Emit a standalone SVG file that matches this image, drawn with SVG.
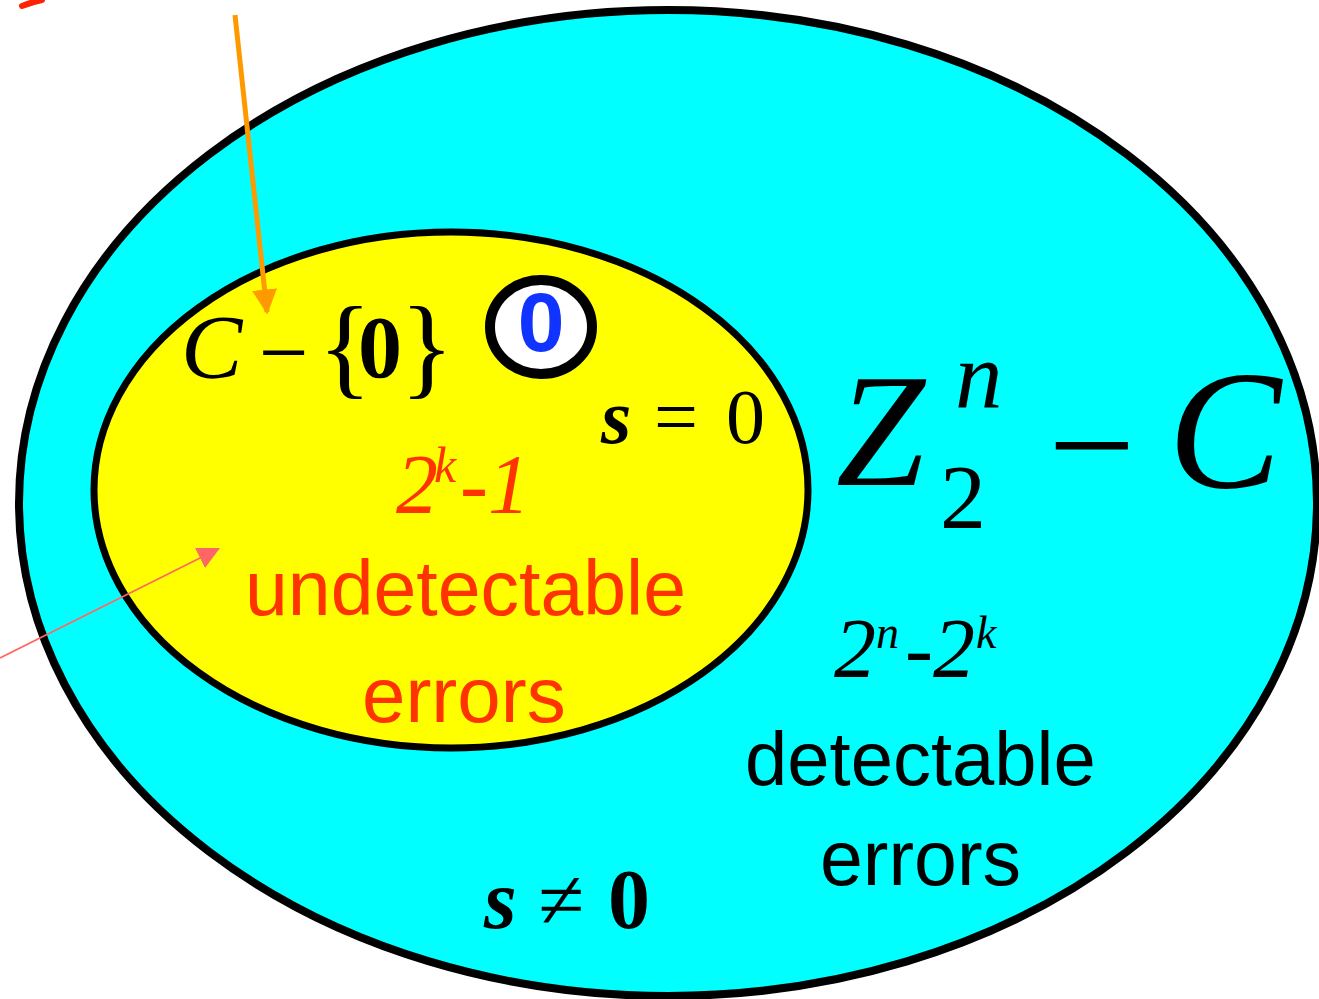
<svg xmlns="http://www.w3.org/2000/svg" width="1319" height="999" viewBox="0 0 1319 999">
<defs>
<style>
.serif{font-family:"Liberation Serif","Times New Roman",serif;}
.sans{font-family:"Liberation Sans",Arial,sans-serif;}
.it{font-style:italic;}
.bd{font-weight:bold;}
.up{font-style:normal;}
.nb{font-weight:normal;}
.red{fill:#FF3300;}
.blk{fill:#000;}
</style>
<marker id="arrOrange" viewBox="0 0 10 10" refX="9" refY="5" markerWidth="5" markerHeight="5" orient="auto" markerUnits="strokeWidth">
<path d="M0,0 L10,5 L0,10 Z" fill="#FF9900"/>
</marker>
<marker id="arrPink" viewBox="0 0 10 10" refX="9" refY="5" markerWidth="14" markerHeight="14" orient="auto" markerUnits="strokeWidth">
<path d="M0,0 L10,5 L0,10 Z" fill="#FF6666"/>
</marker>
</defs>
<rect width="1319" height="999" fill="#FFFFFF"/>
<path d="M22,6 Q32,2 42,0" stroke="#FF2200" stroke-width="6" fill="none" stroke-linecap="round"/>
<g id="outer">
<ellipse cx="668" cy="503" rx="649" ry="493" fill="#00FFFF" stroke="#000" stroke-width="8"/>
</g>
<g id="inner">
<ellipse cx="451" cy="490" rx="357" ry="258" fill="#FFFF00" stroke="#000" stroke-width="7"/>
</g>
<g id="zero">
<ellipse cx="541" cy="327" rx="51" ry="47" fill="#FFFFFF" stroke="#000" stroke-width="10"/>
<text x="541" y="351" text-anchor="middle" class="sans bd" font-size="84" fill="#1133FF">0</text>
</g>
<g id="labels">
<text x="181" y="378" class="serif it blk" font-size="92">C</text>
<text x="259" y="382" class="serif blk" font-size="88">−</text>
<text class="serif blk" y="384" font-size="112"><tspan x="318">{</tspan><tspan x="358" y="377" class="bd" font-size="88">0</tspan><tspan x="400" y="384">}</tspan></text>

<text x="601" y="443" class="serif it bd blk" font-size="78">s</text>
<text x="654" y="443" class="serif blk" font-size="78">=</text>
<text x="726" y="443" class="serif blk" font-size="78">0</text>

<text class="serif it red" y="513" font-size="84"><tspan x="396">2</tspan><tspan x="434" y="482" font-size="50">k</tspan><tspan x="460" y="513">-1</tspan></text>
<text x="245" y="615" class="sans red" font-size="77">undetectable</text>
<text x="362" y="722" class="sans red" font-size="78">errors</text>

<text class="serif it blk" y="485" font-size="160"><tspan x="836">Z</tspan><tspan x="955" y="408" font-size="95">n</tspan><tspan x="940" y="528" class="up" font-size="92">2</tspan></text>
<text x="1048" y="497" class="serif blk" font-size="155">−</text>
<text x="1168" y="487" class="serif it blk" font-size="170">C</text>

<text class="serif it blk" y="677" font-size="84"><tspan x="834">2</tspan><tspan x="876" y="648" font-size="46">n</tspan><tspan x="905" y="677">-2</tspan><tspan x="976" y="648" font-size="46">k</tspan></text>
<text x="745" y="785" class="sans blk" font-size="76">detectable</text>
<text x="820" y="885" class="sans blk" font-size="77">errors</text>

<text class="serif blk" y="928" font-size="84"><tspan x="484" class="it bd">s</tspan><tspan x="538">≠</tspan><tspan x="608" class="bd">0</tspan></text>
</g>
<g id="connectors">
<line x1="235" y1="15" x2="267" y2="312" stroke="#FF9900" stroke-width="5" marker-end="url(#arrOrange)"/>
<line x1="0" y1="658" x2="218" y2="549" stroke="#FF6666" stroke-width="1.6" marker-end="url(#arrPink)"/>
</g>
</svg>
